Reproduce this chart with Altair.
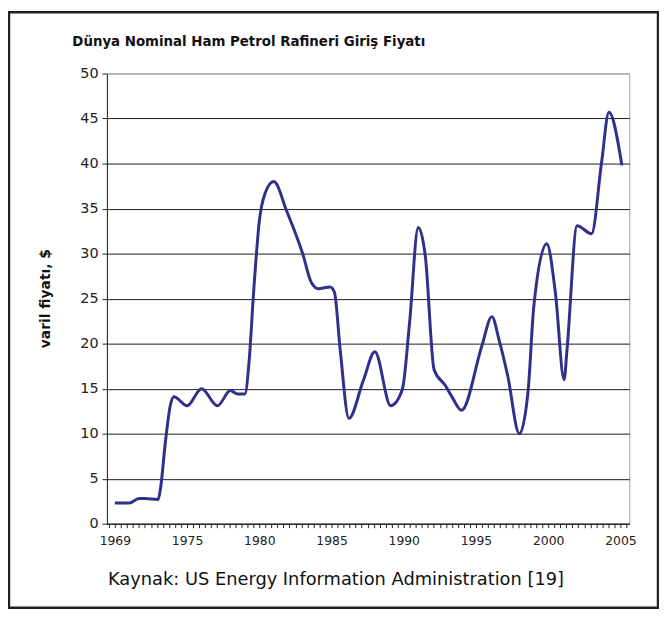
import altair as alt
import pandas as pd

# values (year, nominal price $/barrel)
years = [1969.0, 1970.2, 1971.0, 1971.5, 1972.6, 1972.8, 1973.2, 1973.6, 1973.9,
         1975.0, 1976.0, 1977.1, 1978.0, 1978.5, 1979.0, 1979.3, 1979.6, 1980.0,
         1980.4, 1981.0, 1981.9, 1983.0, 1983.6, 1984.1, 1984.9, 1985.2, 1985.6,
         1986.2, 1987.2, 1988.0, 1989.1, 1989.9, 1990.4, 1991.0, 1991.5, 1992.1,
         1992.9, 1993.3, 1994.0, 1995.4, 1996.1, 1996.6, 1997.2, 1998.0, 1998.6,
         1999.0, 1999.9, 2000.5, 2001.1, 2001.3, 2002.0, 2003.0, 2003.7, 2004.2,
         2005.1]
prices = [2.3, 2.3, 2.8, 2.8, 2.7, 4.0, 9.1, 13.1, 14.1,
          13.1, 15.0, 13.1, 14.8, 14.4, 14.4, 18.2, 25.6, 33.6,
          36.7, 38.0, 34.7, 30.0, 26.8, 26.1, 26.3, 25.7, 19.3,
          11.7, 15.9, 19.1, 13.1, 14.9, 22.3, 32.9, 29.6, 17.1,
          15.3, 14.2, 12.6, 19.7, 23.0, 20.4, 16.4, 10.0, 14.6,
          24.1, 31.1, 25.6, 16.0, 19.3, 33.1, 32.2, 40.2, 45.7,
          39.8]

tick_labels = ["1969", "1975", "1980", "1985", "1990", "1995", "2000", "2005"]
y_ticks = list(range(0, 51, 5))

title_text = "Dünya Nominal Ham Petrol Rafineri Giriş Fiyatı"
y_title = "varil fiyatı, $"
caption = "Kaynak: US Energy Information Administration [19]"

df = pd.DataFrame({"year": years, "price": prices})

W, H = 528, 455
FONT = "DejaVu Sans"

x_tick_vals = [k / 12 for k in range(-1, 86)]
label_arr = "[" + ",".join("'" + s + "'" for s in tick_labels) + "]"
label_expr = ("abs(datum.value - round(datum.value)) < 0.01 ? "
              + label_arr + "[round(datum.value)] : ''")

line = alt.Chart(df).transform_calculate(
    t="datum.year < 1975 ? (datum.year - 1969) / 6 : 1 + (datum.year - 1975) / 5"
).mark_line(color="#2f2f8c", strokeWidth=3, interpolate="monotone").encode(
    x=alt.X("t:Q",
            scale=alt.Scale(domain=[-0.11, 7.123], nice=False, zero=False),
            axis=alt.Axis(values=x_tick_vals, labelExpr=label_expr,
                          labelOverlap=False, labelFlush=False,
                          labelFont=FONT, labelFontSize=12.5, labelColor="#222",
                          labelPadding=7, tickSize=4, tickColor="#222",
                          domainColor="#222", grid=False,
                          title=caption, titleFont=FONT, titleFontSize=18,
                          titleFontWeight="normal", titleColor="#111",
                          titleX=231, titleY=61, titleBaseline="alphabetic",
                          titleAlign="center")),
    y=alt.Y("price:Q",
            scale=alt.Scale(domain=[0, 50], nice=False),
            axis=alt.Axis(values=y_ticks, grid=True,
                          gridColor={"condition": {"test": "datum.value === 50",
                                                   "value": "#a0a0a0"},
                                     "value": "#1a1a1a"},
                          gridWidth=1,
                          labelFont=FONT, labelFontSize=14.5, labelColor="#222",
                          labelPadding=4, tickSize=5, tickColor="#222",
                          domainColor="#222",
                          title=y_title, titleFont=FONT, titleFontSize=14,
                          titleFontWeight="bold", titleColor="#111",
                          titleX=-62, titleY=227, titleBaseline="middle",
                          titleAlign="center", titleAngle=270)),
)

title = alt.Chart(alt.Data(values=[{"label": title_text}])).mark_text(
    align="left", baseline="alphabetic", font=FONT, fontSize=13.5,
    fontWeight="bold", color="#111", clip=False
).encode(x=alt.value(-35), y=alt.value(-28), text="label:N")

frame = alt.Chart(alt.Data(values=[{}])).mark_rect(
    filled=False, stroke="#222", strokeWidth=2.5, clip=False
).encode(x=alt.value(-99), x2=alt.value(557), y=alt.value(-62), y2=alt.value(540))

chart = alt.layer(line, title, frame).properties(
    width=W, height=H,
    padding={"left": 100, "top": 63, "right": 30, "bottom": 86},
    autosize=alt.AutoSizeParams(type="none"),
).configure_view(stroke="#a0a0a0", strokeWidth=1)

chart.save("out.html", embed_options={"renderer": "svg", "actions": False})
